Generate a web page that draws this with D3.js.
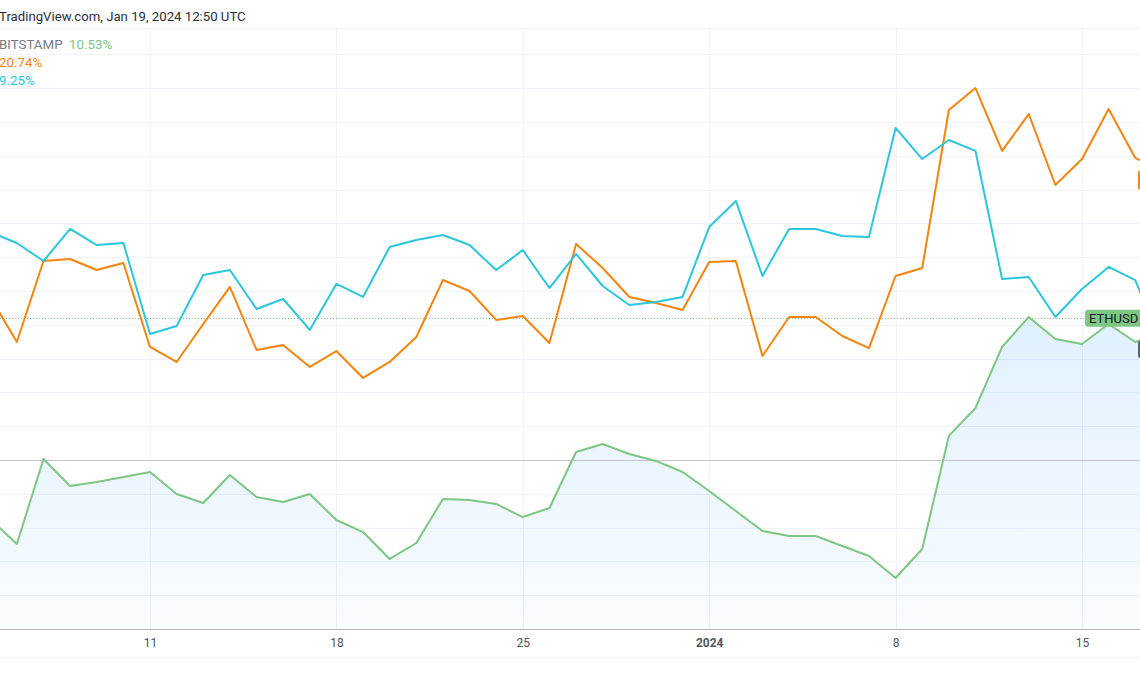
<!DOCTYPE html>
<html>
<head>
<meta charset="utf-8">
<script src="https://cdn.jsdelivr.net/npm/d3@7"></script>
<style>
  html, body { margin: 0; padding: 0; background: #fff; overflow: hidden; }
  #parentDiv { width: 1140px; height: 694px; }
  text { font-family: Roboto, "Noto Sans", sans-serif; }
</style>
</head>
<body>
<div id="parentDiv"></div>
<script>
// DATA (percent change, daily closes)
const dates = d3.utcDays(new Date(Date.UTC(2023, 11, 5)), new Date(Date.UTC(2024, 0, 20)));

const ethusd = [-4.36, -6.21, 0.07, -1.92, -1.63, -1.26, -0.89, -2.51, -3.18, -1.11, -2.74, -3.11,
  -2.51, -4.44, -5.33, -7.32, -6.14, -2.88, -2.96, -3.25, -4.22, -3.55, 0.59, 1.18, 0.44, -0.07,
  -0.89, -2.29, -3.77, -5.25, -5.62, -5.62, -6.36, -7.10, -8.73, -6.58, 1.78, 3.85, 8.36, 10.58,
  8.95, 8.58, 10.06, 8.73, 9.39, 10.53];
const orangeSeries = [12.06, 8.73, 14.72, 14.87, 14.05, 14.57, 8.36, 7.25, 10.06, 12.80, 8.14, 8.51,
  6.88, 8.06, 6.07, 7.25, 9.10, 13.31, 12.50, 10.36, 10.65, 8.65, 15.98, 14.20, 12.06, 11.61,
  11.09, 14.64, 14.72, 7.69, 10.58, 10.58, 9.17, 8.28, 13.61, 14.20, 25.89, 27.51, 22.86, 25.59,
  20.34, 22.26, 25.96, 22.34, 21.45, 20.74];
const cyanSeries = [16.86, 16.05, 14.72, 17.09, 15.90, 16.05, 9.32, 9.91, 13.68, 14.05, 11.17, 11.91,
  9.62, 13.02, 12.06, 15.75, 16.27, 16.64, 15.90, 14.05, 15.53, 12.72, 15.24, 12.87, 11.46, 11.69,
  12.06, 17.23, 19.16, 13.61, 17.09, 17.09, 16.57, 16.49, 24.56, 22.26, 23.67, 22.86, 13.39, 13.54,
  10.58, 12.65, 14.28, 13.31, 8.51, 9.25];

const tickDates = [[2023, 11, 11], [2023, 11, 18], [2023, 11, 25], [2024, 0, 1], [2024, 0, 8], [2024, 0, 15]]
  .map(d => new Date(Date.UTC(d[0], d[1], d[2])));
const tickLabels = ["11", "18", "25", "2024", "8", "15"];
const gridValues = d3.range(-10, 30.01, 2.5);

const green = "#7ec682";
const orange = "#f5840c";
const cyan = "#2bc6dc";
const gridColor = "#f0f3fa";

const width = 1140;
const height = 694;
const plotTop = 28;
const plotBottom = 629;

// SCALES
const x = d3.scaleUtc()
  .domain([tickDates[0], tickDates[5]])
  .range([150, 1082]);

const y = d3.scaleLinear()
  .domain([-12.5, 30])
  .range([plotBottom, plotBottom - 42.5 * 13.52]);

const svg = d3.select('#parentDiv').append('svg')
  .attr('width', width)
  .attr('height', height);

const defs = svg.append('defs');
defs.append('clipPath').attr('id', 'plot-clip')
  .append('rect')
  .attr('x', 0).attr('y', plotTop)
  .attr('width', width).attr('height', plotBottom - plotTop);

const grad = defs.append('linearGradient')
  .attr('id', 'area-grad')
  .attr('gradientUnits', 'userSpaceOnUse')
  .attr('x1', 0).attr('y1', y(10.53))
  .attr('x2', 0).attr('y2', plotBottom);
grad.append('stop').attr('offset', '0%').attr('stop-color', '#2196f3').attr('stop-opacity', 0.14);
grad.append('stop').attr('offset', '100%').attr('stop-color', '#2196f3').attr('stop-opacity', 0.03);

// GRID
svg.append('line')
  .attr('x1', 0).attr('x2', width)
  .attr('y1', plotTop + 0.5).attr('y2', plotTop + 0.5)
  .attr('stroke', gridColor);

svg.append('g').selectAll('line')
  .data(gridValues.filter(v => v !== 0))
  .join('line')
  .attr('x1', 0).attr('x2', width)
  .attr('y1', d => Math.round(y(d)) + 0.5)
  .attr('y2', d => Math.round(y(d)) + 0.5)
  .attr('stroke', gridColor);

svg.append('g').selectAll('line')
  .data(tickDates)
  .join('line')
  .attr('x1', d => Math.round(x(d)) + 0.5)
  .attr('x2', d => Math.round(x(d)) + 0.5)
  .attr('y1', plotTop).attr('y2', plotBottom)
  .attr('stroke', gridColor);

// AREA UNDER MAIN SERIES
const plot = svg.append('g').attr('clip-path', 'url(#plot-clip)');

plot.append('path')
  .datum(ethusd)
  .attr('fill', 'url(#area-grad)')
  .attr('d', d3.area()
    .x((d, i) => x(dates[i]))
    .y0(plotBottom)
    .y1(d => y(d)));

// zero line
plot.append('line')
  .attr('x1', 0).attr('x2', width)
  .attr('y1', Math.round(y(0)) + 0.5).attr('y2', Math.round(y(0)) + 0.5)
  .attr('stroke', '#c3c5cb');

// last price dotted line
plot.append('line')
  .attr('x1', 0).attr('x2', width)
  .attr('y1', Math.round(y(10.53)) + 0.5).attr('y2', Math.round(y(10.53)) + 0.5)
  .attr('stroke', green)
  .attr('stroke-dasharray', '1,2');

// LINES
const line = d3.line()
  .x((d, i) => x(dates[i]))
  .y(d => y(d));

[[ethusd, green], [orangeSeries, orange], [cyanSeries, cyan]].forEach(s => {
  plot.append('path')
    .datum(s[0])
    .attr('fill', 'none')
    .attr('stroke', s[1])
    .attr('stroke-width', 2)
    .attr('stroke-linejoin', 'round')
    .attr('d', line);
});

// X AXIS
svg.append('line')
  .attr('x1', 0).attr('x2', width)
  .attr('y1', plotBottom + 0.5).attr('y2', plotBottom + 0.5)
  .attr('stroke', '#b2b5be');

svg.append('line')
  .attr('x1', 0).attr('x2', width)
  .attr('y1', 657.5).attr('y2', 657.5)
  .attr('stroke', gridColor);

const xAxis = svg.append('g')
  .attr('transform', `translate(0, ${plotBottom})`)
  .call(d3.axisBottom(x).tickValues(tickDates).tickSize(0).tickPadding(9)
    .tickFormat((d, i) => tickLabels[i]));
xAxis.select('.domain').remove();
xAxis.selectAll('text')
  .attr('fill', '#50535e')
  .attr('font-size', '12px')
  .attr('font-weight', (d, i) => tickLabels[i] === "2024" ? 'bold' : 'normal');

// RIGHT EDGE LABELS
svg.append('rect')
  .attr('x', 1138).attr('y', y(20.74) - 9)
  .attr('width', 10).attr('height', 19)
  .attr('rx', 2)
  .attr('fill', orange);

svg.append('rect')
  .attr('x', 1138).attr('y', 341)
  .attr('width', 10).attr('height', 17)
  .attr('rx', 2)
  .attr('fill', '#5d606b');

svg.append('rect')
  .attr('x', 1085).attr('y', y(10.53) - 8)
  .attr('width', 64).attr('height', 17)
  .attr('rx', 3)
  .attr('fill', green);

svg.append('text')
  .attr('x', 1089).attr('y', y(10.53) + 5)
  .attr('fill', '#131722')
  .attr('font-size', '13px')
  .text('ETHUSD');

// HEADER + LEGEND
svg.append('text')
  .attr('x', -1).attr('y', 21)
  .attr('fill', '#2a2e39')
  .attr('font-size', '13.2px')
  .text('TradingView.com, Jan 19, 2024 12:50 UTC');

const legend = svg.append('g').attr('font-size', '13.3px');
legend.append('text')
  .attr('x', -1).attr('y', 49)
  .attr('fill', '#787b86')
  .text('BITSTAMP');
legend.append('text')
  .attr('x', 69).attr('y', 49)
  .attr('fill', green)
  .text('10.53%');
legend.append('text')
  .attr('x', -1).attr('y', 67)
  .attr('fill', orange)
  .text('20.74%');
legend.append('text')
  .attr('x', -1).attr('y', 85)
  .attr('fill', cyan)
  .text('9.25%');
</script>
</body>
</html>
